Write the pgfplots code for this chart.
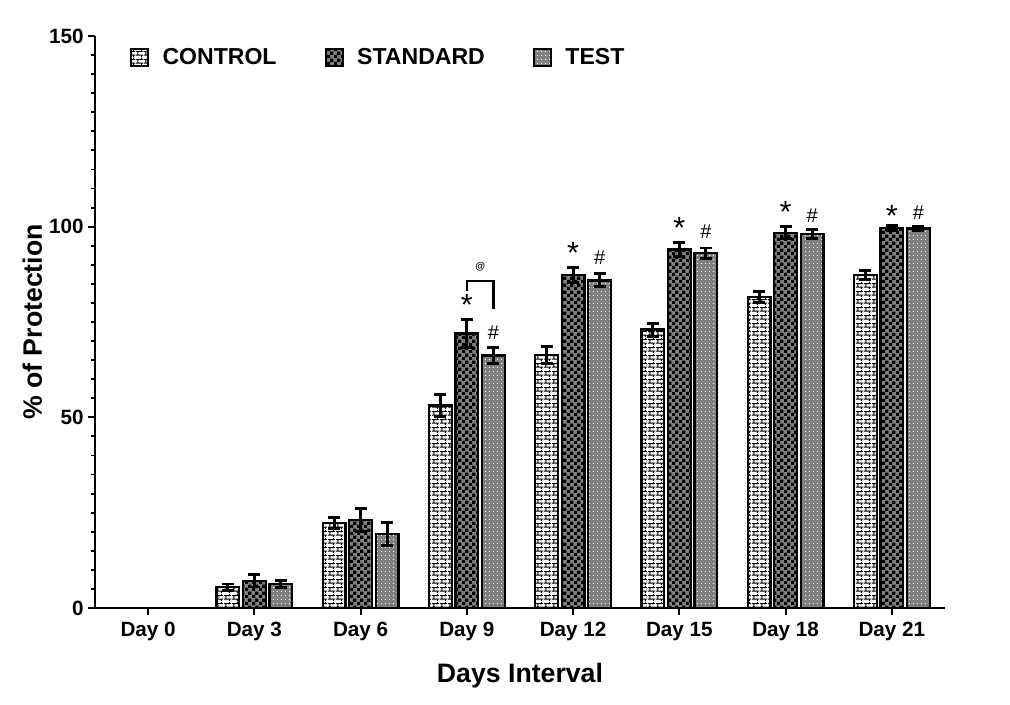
\documentclass[border=0pt]{standalone}
\usepackage{fontspec}
\setmainfont{Liberation Sans}
\usepackage{pgfplots}
\usepackage{pgfplotstable}
\pgfplotsset{compat=1.18}
\usetikzlibrary{patterns.meta}

\tikzdeclarepattern{
  name=mybricks, type=uncolored,
  bottom left={(0pt,0pt)}, top right={(6pt,6pt)}, tile size={(6pt,6pt)},
  code={
    \pgfsetlinewidth{0.8pt}
    \pgfpathmoveto{\pgfpoint{0pt}{1.5pt}}\pgfpathlineto{\pgfpoint{6pt}{1.5pt}}
    \pgfpathmoveto{\pgfpoint{0pt}{4.5pt}}\pgfpathlineto{\pgfpoint{6pt}{4.5pt}}
    \pgfpathmoveto{\pgfpoint{1.5pt}{1.5pt}}\pgfpathlineto{\pgfpoint{1.5pt}{4.5pt}}
    \pgfpathmoveto{\pgfpoint{4.5pt}{4.5pt}}\pgfpathlineto{\pgfpoint{4.5pt}{6pt}}
    \pgfpathmoveto{\pgfpoint{4.5pt}{0pt}}\pgfpathlineto{\pgfpoint{4.5pt}{1.5pt}}
    \pgfusepath{stroke}
  }
}
\tikzdeclarepattern{
  name=mycheck, type=uncolored,
  bottom left={(0pt,0pt)}, top right={(5pt,5pt)}, tile size={(5pt,5pt)},
  code={
    \pgfpathrectangle{\pgfpoint{0pt}{0pt}}{\pgfpoint{2.5pt}{2.5pt}}
    \pgfpathrectangle{\pgfpoint{2.5pt}{2.5pt}}{\pgfpoint{2.5pt}{2.5pt}}
    \pgfusepath{fill}
  }
}
\tikzdeclarepattern{
  name=mydots, type=uncolored,
  bottom left={(0pt,0pt)}, top right={(3pt,3pt)}, tile size={(3pt,3pt)},
  code={
    \pgfpathrectangle{\pgfpoint{1pt}{1pt}}{\pgfpoint{0.8pt}{0.8pt}}
    \pgfusepath{fill}
  }
}

\pgfplotstableread{
x c ce s se t te
0 0 0 0 0 0 0
1 5.5 0.8 7.1 1.6 6.3 1.0
2 22.3 1.5 23.0 3.0 19.4 3.0
3 53.1 3.0 72.0 3.7 66.2 2.0
4 66.4 2.2 87.4 2.0 85.9 1.7
5 73.0 1.7 94.0 1.9 93.0 1.4
6 81.6 1.4 98.4 1.6 98.0 1.2
7 87.3 1.2 99.6 0.6 99.5 0.6
}\data

\pgfplotsset{
  mylegend/.style={legend image code/.code={\draw[##1] (0pt,-6.4pt) rectangle (12.75pt,6.4pt);}},
  myerr/.style={error bars/.cd, y dir=both, y explicit,
    error bar style={line width=2.2pt, draw=black, solid},
    error mark options={rotate=90, mark size=4.5pt, line width=2.2pt, draw=black, solid}}
}
\newcommand{\astfont}{\fontsize{23pt}{23pt}\selectfont}
\newcommand{\hashfont}{\fontsize{15pt}{15pt}\selectfont}

\begin{document}
\begin{tikzpicture}
\begin{axis}[
  scale only axis, width=637.5pt, height=429pt,
  xmin=-0.5, xmax=7.5, ymin=0, ymax=150,
  axis lines=left, axis line style={-, line width=1.9pt},
  ybar=2.875pt, bar width=17pt,
  xtick={0,1,2,3,4,5,6,7},
  xticklabels={Day 0,Day 3,Day 6,Day 9,Day 12,Day 15,Day 18,Day 21},
  ytick={0,50,100,150}, minor y tick num=9,
  /pgf/number format/assume math mode=true,
  tick align=outside, major tick length=5pt, minor tick length=3pt,
  major tick style={line width=1.5pt, black},
  minor tick style={line width=1.4pt, black},
  tick label style={font=\fontsize{15.5pt}{18pt}\selectfont\bfseries},
  xticklabel style={yshift=-2pt},
  xlabel={Days Interval}, ylabel={\% of Protection},
  label style={font=\fontsize{20pt}{24pt}\selectfont\bfseries},
  xlabel style={at={(axis description cs:0.5,0)}, anchor=base, yshift=-56.25pt},
  ylabel style={at={(axis description cs:-0.0624,0.5)}, anchor=base},
  legend style={at={(axis description cs:0,1)}, anchor=north west, xshift=23pt, yshift=-5pt,
    draw=none, fill=none, font=\fontsize{17.3pt}{20pt}\selectfont\bfseries,
    /tikz/every odd column/.append style={column sep=8pt},
    /tikz/every even column/.append style={column sep=34pt}},
  legend columns=3,
  clip=false,
]
\addplot[draw=black, line width=1.7pt, preaction={fill=white}, pattern=mybricks, pattern color=black, mylegend, myerr]
  table[x=x, y=c, y error=ce] {\data};
\addplot[draw=black, line width=1.7pt, preaction={fill=gray}, pattern=mycheck, pattern color=black, mylegend, myerr]
  table[x=x, y=s, y error=se] {\data};
\addplot[draw=black, line width=1.7pt, preaction={fill=gray}, pattern=mydots, pattern color=white, mylegend, myerr]
  table[x=x, y=t, y error=te] {\data};
\legend{CONTROL, STANDARD, TEST}

% significance marks
\node[font=\astfont] at (axis cs:3,79.4) {*};
\node[font=\astfont] at (axis cs:4,93.2) {*};
\node[font=\astfont] at (axis cs:5,99.6) {*};
\node[font=\astfont] at (axis cs:6,103.8) {*};
\node[font=\astfont] at (axis cs:7,102.8) {*};
\node[font=\hashfont] at (axis cs:3.25,72.3) {\#};
\node[font=\hashfont] at (axis cs:4.25,91.8) {\#};
\node[font=\hashfont] at (axis cs:5.25,98.6) {\#};
\node[font=\hashfont] at (axis cs:6.25,102.8) {\#};
\node[font=\hashfont] at (axis cs:7.25,103.8) {\#};
\draw[line width=1.7pt] (axis cs:3,83.2) -- (axis cs:3,85.8) -- (axis cs:3.25,85.8) -- (axis cs:3.25,78.5);
\node[font=\fontsize{7.5pt}{8pt}\selectfont\bfseries] at (axis cs:3.125,89.6) {@};
\end{axis}
\pgfresetboundingbox
\path[use as bounding box] ([xshift=-71.25pt,yshift=-72.75pt]current axis.south west) rectangle ([xshift=48.75pt,yshift=27pt]current axis.north east);
\end{tikzpicture}
\end{document}
